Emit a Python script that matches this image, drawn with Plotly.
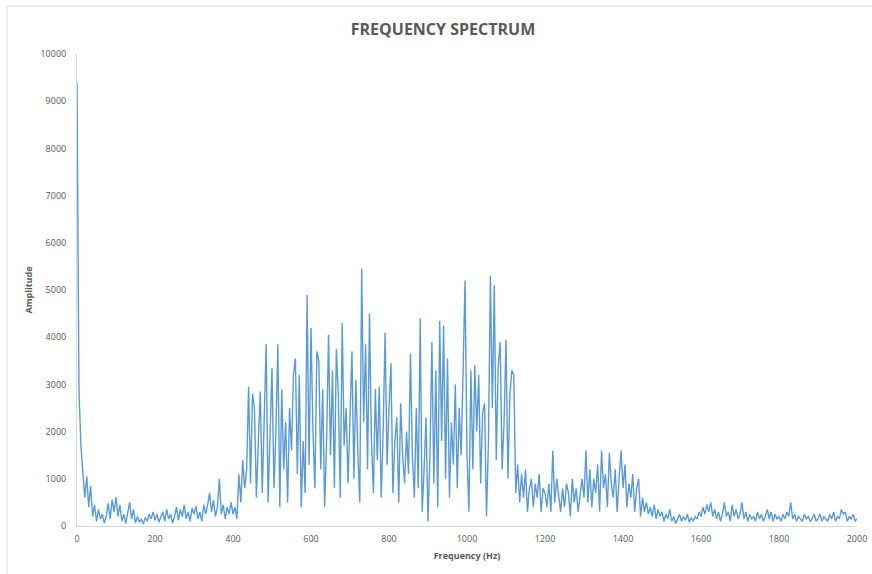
import plotly.graph_objects as go

# Frequency axis (Hz), 5 Hz bins
freq_hz = list(range(0, 2001, 5))

# Amplitude, 100 Hz per row
amplitude = [
    9400, 2900, 1700, 1200, 600, 1050, 400, 850, 200, 450, 100, 350, 150, 250, 60, 200, 480, 150, 560, 300,
    620, 200, 450, 100, 250, 50, 300, 500, 150, 350, 60, 200, 80, 150, 40, 180, 100, 250, 150, 300,
    120, 250, 80, 180, 300, 100, 350, 150, 250, 60, 200, 400, 120, 350, 200, 450, 150, 300, 100, 380,
    250, 420, 150, 300, 100, 450, 250, 450, 700, 300, 550, 200, 400, 1000, 250, 450, 150, 400, 250, 500,
    250, 400, 150, 1100, 500, 1400, 800, 1200, 2950, 900, 2800, 2500, 600, 1800, 2850, 700, 2600, 3850, 500, 1700,
    3350, 800, 2000, 3850, 400, 2900, 1200, 2200, 500, 2500, 1600, 3200, 3550, 1100, 3200, 400, 1800, 700, 4900, 1300,
    4200, 2000, 800, 3700, 3500, 1200, 2900, 400, 1800, 4050, 1500, 3300, 800, 3750, 2800, 600, 4300, 1700, 2500, 900,
    2100, 3700, 1000, 3100, 1600, 500, 5450, 2200, 3850, 1200, 4500, 1800, 700, 2900, 1400, 2950, 600, 2000, 4100, 1300,
    2500, 3450, 700, 1800, 2300, 500, 2600, 1500, 900, 2000, 1100, 3650, 1500, 600, 2500, 800, 4400, 300, 1200, 2300,
    100, 1500, 3900, 900, 3300, 400, 4350, 1800, 4250, 1000, 3550, 600, 2200, 1300, 3000, 800, 2500, 1500, 3300, 5200,
    1500, 300, 3300, 1200, 3400, 2000, 3200, 900, 2400, 2600, 200, 1800, 5300, 2500, 5100, 1400, 3400, 3900, 1200, 2200,
    3950, 1000, 2800, 3300, 3200, 700, 1300, 500, 1100, 600, 1200, 300, 800, 1000, 400, 900, 600, 1100, 300, 800,
    700, 400, 900, 300, 1600, 500, 1000, 600, 300, 800, 400, 900, 700, 200, 1000, 500, 800, 300, 600, 1000,
    600, 1600, 500, 1200, 400, 1000, 700, 1300, 300, 1600, 800, 1100, 400, 1550, 900, 600, 1200, 300, 1000, 1600,
    800, 1300, 400, 900, 600, 1100, 300, 800, 1000, 200, 600, 300, 500, 250, 400, 200, 450, 150, 350, 200,
    300, 100, 250, 150, 350, 100, 200, 50, 150, 250, 100, 200, 120, 250, 80, 180, 100, 200, 150, 300,
    200, 400, 250, 450, 300, 500, 200, 350, 150, 300, 100, 250, 500, 200, 300, 100, 450, 200, 350, 150,
    250, 500, 150, 300, 100, 250, 150, 200, 100, 300, 150, 250, 100, 200, 350, 150, 300, 100, 250, 150,
    200, 100, 250, 150, 300, 200, 500, 150, 250, 100, 200, 150, 100, 250, 150, 200, 100, 150, 250, 100,
    150, 250, 100, 200, 150, 100, 250, 150, 300, 100, 200, 150, 350, 250, 300, 100, 200, 150, 250, 100,
    150,
]

x_ticks = [0, 200, 400, 600, 800, 1000, 1200, 1400, 1600, 1800, 2000]
y_ticks = [0, 1000, 2000, 3000, 4000, 5000, 6000, 7000, 8000, 9000, 10000]

TEXT = "#595959"
AXIS = "#d9d9d9"
FONT = "Open Sans, Liberation Sans, sans-serif"

fig = go.Figure()
fig.add_trace(go.Scatter(
    x=freq_hz, y=amplitude, mode="lines",
    line=dict(color="#5b9bd5", width=1.4),
    showlegend=False, hoverinfo="x+y",
))

L, R, T, B = 77, 15, 54, 48
W, H = 872, 574
pw, ph = W - L - R, H - T - B

def px_to_paper_x(px):
    return (px - L) / pw

def py_to_paper_y(py):
    return (H - B - py) / ph

fig.update_layout(
    width=W, height=H,
    margin=dict(l=L, r=R, t=T, b=B, autoexpand=False),
    paper_bgcolor="white", plot_bgcolor="white",
    font=dict(family=FONT, color=TEXT, size=9),
    title=dict(text="<b>FREQUENCY SPECTRUM</b>", x=443 / W, xanchor="center",
               y=1 - 29 / H, yanchor="middle",
               font=dict(size=16, color=TEXT, family=FONT)),
    xaxis=dict(range=[0, 2000], tickvals=x_ticks, ticktext=[str(v) for v in x_ticks],
               showgrid=False, zeroline=False, showline=True, linecolor=AXIS, linewidth=1,
               ticks="", tickfont=dict(size=9, color=TEXT), automargin=False,
               ticklabelstandoff=4,
               title=dict(text="<b>Frequency (Hz)</b>", font=dict(size=9, color=TEXT), standoff=8)),
    yaxis=dict(range=[0, 10000], tickvals=y_ticks, ticktext=[str(v) for v in y_ticks],
               showgrid=False, zeroline=False, showline=True, linecolor=AXIS, linewidth=1,
               ticks="", tickfont=dict(size=9, color=TEXT), automargin=False,
               ticklabelstandoff=8,
               title=dict(text="<b>Amplitude</b>", font=dict(size=9, color=TEXT), standoff=6)),
)

# light chart-area border (top and left edges visible in the reference)
fig.add_shape(type="line", xref="paper", yref="paper",
              x0=px_to_paper_x(7), x1=px_to_paper_x(880),
              y0=py_to_paper_y(6), y1=py_to_paper_y(6),
              line=dict(color="#d9d9d9", width=1))
fig.add_shape(type="line", xref="paper", yref="paper",
              x0=px_to_paper_x(7), x1=px_to_paper_x(7),
              y0=py_to_paper_y(6), y1=py_to_paper_y(580),
              line=dict(color="#d9d9d9", width=1))

fig.write_html("out.html")
